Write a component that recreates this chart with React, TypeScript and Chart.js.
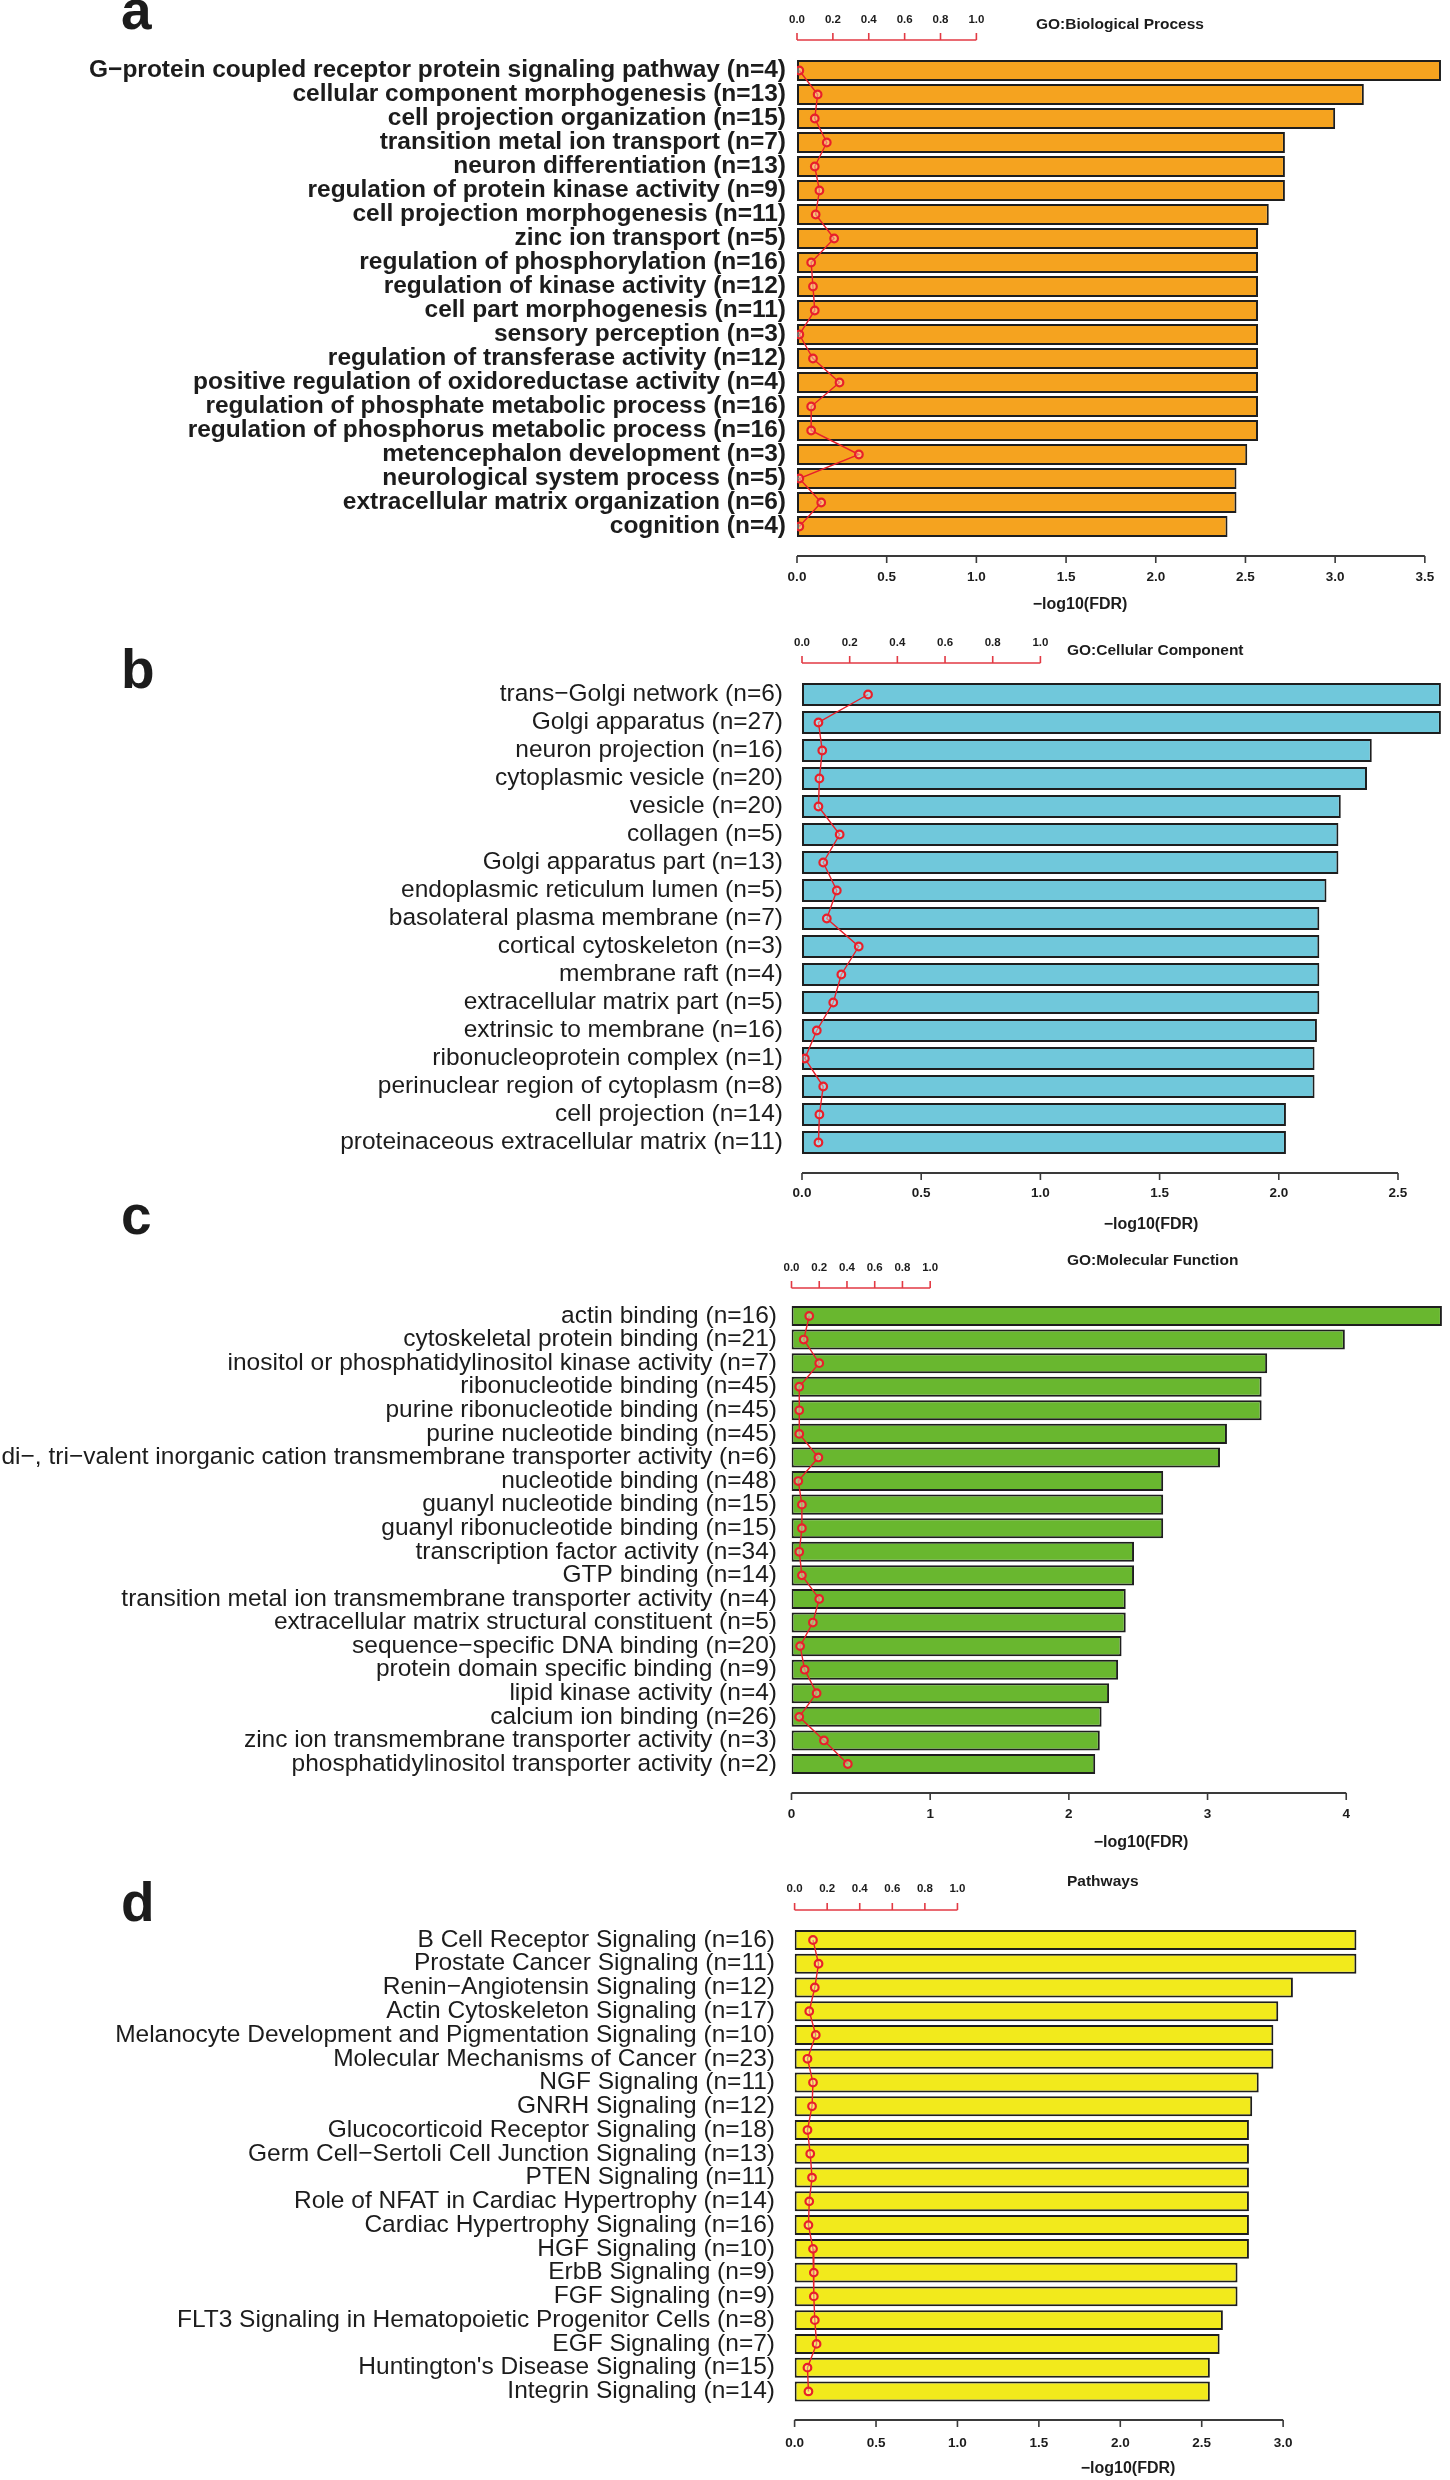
import React, { useEffect, useRef } from "react";
import { Chart, registerables } from "chart.js";

Chart.register(...registerables);

const FONT = '"Liberation Sans", Arial, Helvetica, sans-serif';
const INK = "#1c1c1c";
const RED = "#e8202a";
const RED_AXIS = "#e23a44";

// ---------- Panel a : GO Biological Process ----------
const bpTerms = [
  "G\u2212protein coupled receptor protein signaling pathway (n=4)",
  "cellular component morphogenesis (n=13)",
  "cell projection organization (n=15)",
  "transition metal ion transport (n=7)",
  "neuron differentiation (n=13)",
  "regulation of protein kinase activity (n=9)",
  "cell projection morphogenesis (n=11)",
  "zinc ion transport (n=5)",
  "regulation of phosphorylation (n=16)",
  "regulation of kinase activity (n=12)",
  "cell part morphogenesis (n=11)",
  "sensory perception (n=3)",
  "regulation of transferase activity (n=12)",
  "positive regulation of oxidoreductase activity (n=4)",
  "regulation of phosphate metabolic process (n=16)",
  "regulation of phosphorus metabolic process (n=16)",
  "metencephalon development (n=3)",
  "neurological system process (n=5)",
  "extracellular matrix organization (n=6)",
  "cognition (n=4)",
];
const bpLogFDR = [3.59, 3.16, 3.0, 2.72, 2.72, 2.72, 2.63, 2.57, 2.57, 2.57, 2.57, 2.57, 2.57, 2.57, 2.57, 2.57, 2.51, 2.45, 2.45, 2.4];
const bpRatio = [0.013, 0.115, 0.099, 0.166, 0.099, 0.125, 0.104, 0.207, 0.079, 0.089, 0.099, 0.013, 0.089, 0.237, 0.079, 0.079, 0.345, 0.013, 0.135, 0.013];
const bpAxisTicks = [0, 0.5, 1, 1.5, 2, 2.5, 3, 3.5];
const bpAxisLabels = ["0.0", "0.5", "1.0", "1.5", "2.0", "2.5", "3.0", "3.5"];

// ---------- Panel b : GO Cellular Component ----------
const ccTerms = [
  "trans\u2212Golgi network (n=6)",
  "Golgi apparatus (n=27)",
  "neuron projection (n=16)",
  "cytoplasmic vesicle (n=20)",
  "vesicle (n=20)",
  "collagen (n=5)",
  "Golgi apparatus part (n=13)",
  "endoplasmic reticulum lumen (n=5)",
  "basolateral plasma membrane (n=7)",
  "cortical cytoskeleton (n=3)",
  "membrane raft (n=4)",
  "extracellular matrix part (n=5)",
  "extrinsic to membrane (n=16)",
  "ribonucleoprotein complex (n=1)",
  "perinuclear region of cytoplasm (n=8)",
  "cell projection (n=14)",
  "proteinaceous extracellular matrix (n=11)",
];
const ccLogFDR = [2.68, 2.68, 2.39, 2.37, 2.26, 2.25, 2.25, 2.2, 2.17, 2.17, 2.17, 2.17, 2.16, 2.15, 2.15, 2.03, 2.03];
const ccRatio = [0.277, 0.069, 0.085, 0.073, 0.069, 0.158, 0.089, 0.146, 0.104, 0.238, 0.165, 0.131, 0.062, 0.012, 0.089, 0.073, 0.069];
const ccAxisTicks = [0, 0.5, 1, 1.5, 2, 2.5];
const ccAxisLabels = ["0.0", "0.5", "1.0", "1.5", "2.0", "2.5"];

// ---------- Panel c : GO Molecular Function ----------
const mfTerms = [
  "actin binding (n=16)",
  "cytoskeletal protein binding (n=21)",
  "inositol or phosphatidylinositol kinase activity (n=7)",
  "ribonucleotide binding (n=45)",
  "purine ribonucleotide binding (n=45)",
  "purine nucleotide binding (n=45)",
  "di\u2212, tri\u2212valent inorganic cation transmembrane transporter activity (n=6)",
  "nucleotide binding (n=48)",
  "guanyl nucleotide binding (n=15)",
  "guanyl ribonucleotide binding (n=15)",
  "transcription factor activity (n=34)",
  "GTP binding (n=14)",
  "transition metal ion transmembrane transporter activity (n=4)",
  "extracellular matrix structural constituent (n=5)",
  "sequence\u2212specific DNA binding (n=20)",
  "protein domain specific binding (n=9)",
  "lipid kinase activity (n=4)",
  "calcium ion binding (n=26)",
  "zinc ion transmembrane transporter activity (n=3)",
  "phosphatidylinositol transporter activity (n=2)",
];
const mfLogFDR = [4.69, 3.99, 3.43, 3.39, 3.39, 3.14, 3.09, 2.68, 2.68, 2.68, 2.47, 2.47, 2.41, 2.41, 2.38, 2.355, 2.29, 2.236, 2.223, 2.19];
const mfRatio = [0.128, 0.088, 0.2, 0.056, 0.056, 0.056, 0.194, 0.049, 0.075, 0.075, 0.056, 0.075, 0.2, 0.154, 0.062, 0.095, 0.181, 0.056, 0.234, 0.406];
const mfAxisTicks = [0, 1, 2, 3, 4];
const mfAxisLabels = ["0", "1", "2", "3", "4"];

// ---------- Panel d : Pathways ----------
const pwTerms = [
  "B Cell Receptor Signaling (n=16)",
  "Prostate Cancer Signaling (n=11)",
  "Renin\u2212Angiotensin Signaling (n=12)",
  "Actin Cytoskeleton Signaling (n=17)",
  "Melanocyte Development and Pigmentation Signaling (n=10)",
  "Molecular Mechanisms of Cancer (n=23)",
  "NGF Signaling (n=11)",
  "GNRH Signaling (n=12)",
  "Glucocorticoid Receptor Signaling (n=18)",
  "Germ Cell\u2212Sertoli Cell Junction Signaling (n=13)",
  "PTEN Signaling (n=11)",
  "Role of NFAT in Cardiac Hypertrophy (n=14)",
  "Cardiac Hypertrophy Signaling (n=16)",
  "HGF Signaling (n=10)",
  "ErbB Signaling (n=9)",
  "FGF Signaling (n=9)",
  "FLT3 Signaling in Hematopoietic Progenitor Cells (n=8)",
  "EGF Signaling (n=7)",
  "Huntington's Disease Signaling (n=15)",
  "Integrin Signaling (n=14)",
];
const pwLogFDR = [3.45, 3.45, 3.06, 2.97, 2.94, 2.94, 2.85, 2.81, 2.79, 2.79, 2.79, 2.79, 2.79, 2.79, 2.72, 2.72, 2.63, 2.61, 2.55, 2.55];
const pwRatio = [0.113, 0.147, 0.124, 0.09, 0.13, 0.079, 0.113, 0.107, 0.079, 0.096, 0.107, 0.09, 0.085, 0.113, 0.118, 0.118, 0.124, 0.135, 0.079, 0.085];
const pwAxisTicks = [0, 0.5, 1, 1.5, 2, 2.5, 3];
const pwAxisLabels = ["0.0", "0.5", "1.0", "1.5", "2.0", "2.5", "3.0"];

// ---------- shared top (ratio) scale ----------
const ratioTicks = [0, 0.2, 0.4, 0.6, 0.8, 1.0];
const ratioTickLabels = ["0.0", "0.2", "0.4", "0.6", "0.8", "1.0"];
const xTitle = "\u2212log10(FDR)";

const PAGE_W = 1450;
const PAGE_H = 2480;

type Panel = {
  letter: string;
  title: string;
  terms: string[];
  values: number[];
  ratio: number[];
  axisTicks: number[];
  axisLabels: string[];
  color: string;
  x0: number;
  unit: number;
  bandTop: number;
  spacing: number;
  catPct: number;
  labelPad: number;
  labelSize: number;
  labelWeight: string;
  letterBaseline: number;
  titleX: number;
  titleY: number;
  ratioLabelY: number;
  ratioLineY: number;
  axisY: number;
  axisLabelY: number;
  xTitleX: number;
  xTitleY: number;
};

const panels: Panel[] = [
  {
    letter: "a", title: "GO:Biological Process", terms: bpTerms, values: bpLogFDR, ratio: bpRatio,
    axisTicks: bpAxisTicks, axisLabels: bpAxisLabels, color: "#F5A31F",
    x0: 797, unit: 181.1, bandTop: 58.5, spacing: 24.0, catPct: 0.875, labelPad: 11, labelSize: 24.5, labelWeight: "bold",
    letterBaseline: 29, titleX: 1036, titleY: 24.5, ratioLabelY: 20, ratioLineY: 40,
    axisY: 556, axisLabelY: 577, xTitleX: 1080, xTitleY: 605,
  },
  {
    letter: "b", title: "GO:Cellular Component", terms: ccTerms, values: ccLogFDR, ratio: ccRatio,
    axisTicks: ccAxisTicks, axisLabels: ccAxisLabels, color: "#70C8DB",
    x0: 802, unit: 240.7, bandTop: 680.5, spacing: 28.0, catPct: 0.82, labelPad: 19, labelSize: 24.5, labelWeight: "normal",
    letterBaseline: 688, titleX: 1067, titleY: 651, ratioLabelY: 643, ratioLineY: 663,
    axisY: 1173, axisLabelY: 1193, xTitleX: 1151, xTitleY: 1225,
  },
  {
    letter: "c", title: "GO:Molecular Function", terms: mfTerms, values: mfLogFDR, ratio: mfRatio,
    axisTicks: mfAxisTicks, axisLabels: mfAxisLabels, color: "#69B72F",
    x0: 791.5, unit: 140, bandTop: 1304.2, spacing: 23.58, catPct: 0.85, labelPad: 14.5, labelSize: 24.5, labelWeight: "normal",
    letterBaseline: 1234, titleX: 1067, titleY: 1261, ratioLabelY: 1268, ratioLineY: 1288,
    axisY: 1793, axisLabelY: 1814, xTitleX: 1141, xTitleY: 1843,
  },
  {
    letter: "d", title: "Pathways", terms: pwTerms, values: pwLogFDR, ratio: pwRatio,
    axisTicks: pwAxisTicks, axisLabels: pwAxisLabels, color: "#F2EA1C",
    x0: 794.6, unit: 164.4, bandTop: 1928.1, spacing: 23.76, catPct: 0.84, labelPad: 19.6, labelSize: 24.5, labelWeight: "normal",
    letterBaseline: 1921, titleX: 1067, titleY: 1882, ratioLabelY: 1889, ratioLineY: 1910,
    axisY: 2420, axisLabelY: 2443, xTitleX: 1128, xTitleY: 2469,
  },
];

function makeDecor(p: Panel) {
  return {
    id: "panelDecor" + p.letter,
    afterDraw(chart: any) {
      const ctx: CanvasRenderingContext2D = chart.ctx;
      const xs = chart.scales.x;
      ctx.save();
      // panel letter
      ctx.fillStyle = INK;
      ctx.font = `bold 55px ${FONT}`;
      ctx.textAlign = "left";
      ctx.textBaseline = "alphabetic";
      ctx.fillText(p.letter, 121, p.letterBaseline);
      // panel title
      ctx.font = `bold 15.5px ${FONT}`;
      ctx.textBaseline = "middle";
      ctx.fillText(p.title, p.titleX, p.titleY);
      // top ratio scale (red)
      ctx.strokeStyle = RED_AXIS;
      ctx.lineWidth = 1.6;
      ctx.beginPath();
      const r0 = xs.getPixelForValue(ratioTicks[0]);
      const r1 = xs.getPixelForValue(ratioTicks[ratioTicks.length - 1]);
      ctx.moveTo(r0, p.ratioLineY);
      ctx.lineTo(r1, p.ratioLineY);
      ratioTicks.forEach((v) => {
        const x = xs.getPixelForValue(v);
        ctx.moveTo(x, p.ratioLineY);
        ctx.lineTo(x, p.ratioLineY - 7);
      });
      ctx.stroke();
      ctx.fillStyle = INK;
      ctx.font = `bold 11.5px ${FONT}`;
      ctx.textAlign = "center";
      ratioTickLabels.forEach((t, i) => {
        ctx.fillText(t, xs.getPixelForValue(ratioTicks[i]), p.ratioLabelY);
      });
      // bottom axis
      ctx.strokeStyle = "#3a3a3a";
      ctx.lineWidth = 2.2;
      ctx.beginPath();
      const a0 = xs.getPixelForValue(p.axisTicks[0]);
      const a1 = xs.getPixelForValue(p.axisTicks[p.axisTicks.length - 1]);
      ctx.moveTo(a0, p.axisY);
      ctx.lineTo(a1, p.axisY);
      ctx.stroke();
      ctx.lineWidth = 1.6;
      ctx.beginPath();
      p.axisTicks.forEach((v) => {
        const x = xs.getPixelForValue(v);
        ctx.moveTo(x, p.axisY);
        ctx.lineTo(x, p.axisY + 7);
      });
      ctx.stroke();
      ctx.font = `bold 13.5px ${FONT}`;
      p.axisLabels.forEach((t, i) => {
        ctx.fillText(t, xs.getPixelForValue(p.axisTicks[i]), p.axisLabelY);
      });
      ctx.font = `bold 16px ${FONT}`;
      ctx.fillText(xTitle, p.xTitleX, p.xTitleY);
      ctx.restore();
    },
  };
}

function PanelChart({ p }: { p: Panel }) {
  const ref = useRef<HTMLCanvasElement | null>(null);
  useEffect(() => {
    if (!ref.current) return;
    const n = p.terms.length;
    const bandBottom = p.bandTop + n * p.spacing;
    const xMax = (PAGE_W - p.x0) / p.unit;
    const chart = new Chart(ref.current, {
      type: "bar",
      data: {
        labels: p.terms,
        datasets: [
          {
            type: "line",
            data: p.ratio,
            indexAxis: "y",
            borderColor: RED,
            borderWidth: 1.4,
            pointRadius: 3.8,
            pointBorderWidth: 2.2,
            pointBorderColor: RED,
            pointBackgroundColor: "rgba(255,255,255,0.35)",
            tension: 0,
            order: 0,
          } as any,
          {
            type: "bar",
            data: p.values,
            indexAxis: "y",
            backgroundColor: p.color,
            borderColor: "#1e1e1e",
            borderWidth: 2,
            borderSkipped: false,
            categoryPercentage: p.catPct,
            barPercentage: 1,
            order: 1,
          } as any,
        ],
      },
      options: {
        responsive: false,
        animation: false,
        events: [],
        indexAxis: "y",
        layout: { padding: { top: p.bandTop, bottom: PAGE_H - bandBottom, left: 0, right: 0 } },
        plugins: { legend: { display: false }, tooltip: { enabled: false }, title: { display: false } },
        scales: {
          x: { display: false, min: 0, max: xMax },
          y: {
            display: true,
            grid: { display: false, drawTicks: false },
            border: { display: false },
            ticks: {
              autoSkip: false,
              padding: p.labelPad,
              color: INK,
              font: { family: FONT, size: p.labelSize, weight: p.labelWeight as any },
            },
            afterFit: (s: any) => {
              s.width = p.x0;
            },
          },
        },
      } as any,
      plugins: [makeDecor(p)],
    });
    return () => chart.destroy();
  }, [p]);
  return (
    <canvas
      ref={ref}
      width={PAGE_W}
      height={PAGE_H}
      style={{ position: "absolute", left: 0, top: 0, width: PAGE_W, height: PAGE_H }}
    />
  );
}

export default function App() {
  return (
    <div style={{ position: "absolute", left: 0, top: 0, width: PAGE_W, height: PAGE_H, background: "#ffffff", overflow: "hidden" }}>
      {panels.map((p) => (
        <PanelChart key={p.letter} p={p} />
      ))}
    </div>
  );
}
